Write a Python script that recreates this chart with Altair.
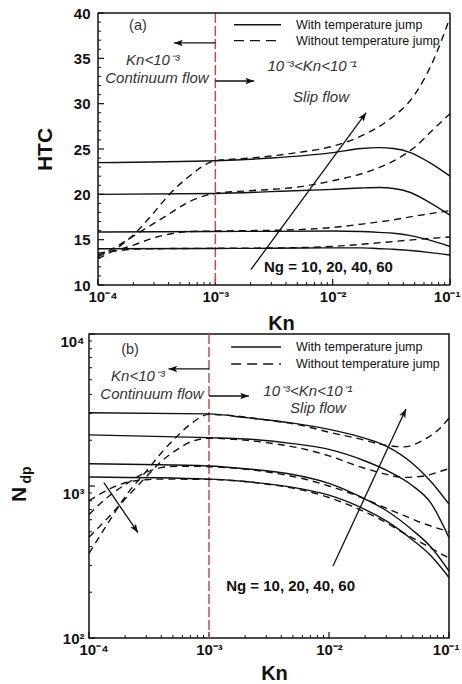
import altair as alt
import pandas as pd

FONT = "Liberation Sans"
INK = "#111111"
RED = "#c0504d"

# ---------------- Knudsen-number axis (shared) ----------------
KN_DOMAIN = [1e-4, 1e-1]
KN_DECADES = [1e-4, 1e-3, 1e-2, 1e-1]
KN_MINOR = [m * d for d in (1e-4, 1e-3, 1e-2) for m in range(2, 10)]
KN_REGIME = [1e-3]  # continuum / slip-flow boundary
KN_LABEL_EXPR = ("datum.value < 0.0005 ? '10⁻⁴' : datum.value < 0.005 ? '10⁻³' : "
                 "datum.value < 0.05 ? '10⁻²' : '10⁻¹'")

# ---------------- (a) heat transfer coefficient ----------------
KN_A_WITH = [1e-4, 1e-3, 3e-3, 1e-2, 1.75e-2, 2.5e-2, 3.3e-2, 4.6e-2, 6.5e-2, 1e-1]
HTC_WITH = {
    10: [14.0, 14.03, 14.05, 14.1, 14.1, 14.0, 13.95, 13.8, 13.6, 13.3],
    20: [15.85, 15.9, 15.92, 15.95, 15.9, 15.8, 15.7, 15.45, 15.0, 14.25],
    40: [20.0, 20.1, 20.3, 20.55, 20.7, 20.75, 20.65, 20.2, 19.2, 17.7],
    60: [23.5, 23.7, 24.0, 24.6, 25.05, 25.15, 25.05, 24.6, 23.6, 22.0],
}
KN_A_WITHOUT = [1e-4, 1.5e-4, 2e-4, 3e-4, 4e-4, 6e-4, 1e-3, 2e-3, 5e-3,
                1e-2, 2e-2, 3e-2, 5e-2, 7e-2, 1e-1]
HTC_WITHOUT = {
    10: [13.5, 13.8, 13.95, 14.0, 14.02, 14.03, 14.05, 14.07, 14.12, 14.25, 14.55, 14.75, 15.0, 15.15, 15.3],
    20: [13.3, 13.9, 14.4, 15.2, 15.6, 15.9, 15.95, 16.0, 16.1, 16.35, 16.8, 17.1, 17.6, 17.9, 18.2],
    40: [13.1, 14.4, 15.4, 16.8, 17.8, 19.2, 20.1, 20.4, 20.8, 21.5, 22.5, 23.4, 25.2, 27.0, 28.9],
    60: [12.9, 14.2, 15.5, 18.0, 19.9, 22.0, 23.7, 24.0, 24.6, 25.3, 26.8, 28.2, 31.0, 34.4, 39.5],
}
HTC_DOMAIN = [10, 40]
HTC_MAJOR = [10, 15, 20, 25, 30, 35, 40]
HTC_MINOR = [v for v in range(11, 40) if v % 5]

# ---------------- (b) N_dp ----------------
KN_B_WITH = [1e-4, 1e-3, 2e-3, 5e-3, 1e-2, 2e-2, 3e-2, 5e-2, 7e-2, 1e-1]
NDP_WITH = {
    10: [1145, 1110, 1070, 980, 870, 700, 590, 440, 350, 250],
    20: [1400, 1355, 1300, 1190, 1040, 820, 690, 510, 400, 276],
    40: [2170, 2080, 2040, 1900, 1740, 1460, 1270, 1000, 780, 457],
    60: [3030, 2980, 2820, 2590, 2360, 2060, 1830, 1400, 1080, 760],
}
KN_B_WITHOUT = [1e-4, 1.5e-4, 2e-4, 3e-4, 4e-4, 5.5e-4, 7e-4, 1e-3, 3e-3, 6e-3,
                1e-2, 1.8e-2, 2.7e-2, 4.2e-2, 6e-2, 8.5e-2, 1e-1]
NDP_WITHOUT = {
    10: [800, 960, 1050, 1100, 1110, 1110, 1108, 1105, 1030, 940, 840, 700, 600, 490, 420, 360, 335],
    20: [650, 870, 1020, 1230, 1320, 1350, 1350, 1340, 1240, 1120, 1000, 850, 740, 640, 570, 520, 500],
    40: [460, 640, 820, 1150, 1450, 1750, 1950, 2060, 1930, 1760, 1580, 1340, 1220, 1140, 1160, 1250, 1300],
    60: [360, 600, 850, 1250, 1650, 2150, 2550, 2960, 2720, 2500, 2260, 2040, 1880, 1810, 1990, 2420, 2800],
}
NDP_DOMAIN = [1e2, 1e4]
NDP_MAJOR = [1e2, 1e3, 1e4]
NDP_MINOR = [m * d for d in (1e2, 1e3) for m in range(2, 10)]
NDP_LABEL_EXPR = "datum.value < 500 ? '10²' : datum.value < 5000 ? '10³' : '10⁴'"

# ---------------- annotations (anchored in data coordinates) ----------------
REGIME_TEXT = ["Kn<10⁻³", "Continuum flow", "10⁻³<Kn<10⁻¹", "Slip flow"]
REGIME_KN_A = [2.94e-4, 3.18e-4, 6.67e-3, 7.96e-3]
REGIME_HTC = [34.85, 32.87, 34.1, 30.77]
REGIME_KN_B = [2.56e-4, 3.35e-4, 6.68e-3, 8.1e-3]
REGIME_NDP = [5292, 4027, 4217, 3259]

LEGEND_TEXT = ["With temperature jump", "Without temperature jump"]
LEGEND_DASHED = [False, True]
LEGEND_KN_A = [1.44e-3, 3.63e-3, 4.87e-3]      # line start, line end, text start
LEGEND_HTC = [38.7, 36.95]
LEGEND_KN_B = [1.53e-3, 3.98e-3, 5.31e-3]
LEGEND_NDP = [8210, 6353]

NG_TEXT = "Ng = 10, 20, 40, 60"
NG_POS_A = (2.6e-3, 12.03)
NG_POS_B = (1.39e-3, 220)
TAG_POS_A = (2.19e-4, 38.6)
TAG_POS_B = (2.2e-4, 7850)

# arrows: start Kn, start value, end Kn, end value, head rotation (deg)
ARROWS_A = [
    (1e-3, 36.7, 4.45e-4, 36.7, 270),
    (1e-3, 32.5, 2.14e-3, 32.5, 90),
    (2.01e-3, 11.7, 1.93e-2, 29.0, 36),
]
ARROWS_B = [
    (1e-3, 5888, 4.6e-4, 5888, 270),
    (1e-3, 3908, 2.15e-3, 3908, 90),
    (1.08e-2, 298, 4.38e-2, 3213, 25),
    (1.33e-4, 1052, 2.56e-4, 493, 146),
]

ARROW_HEAD = "M0,0 L-0.38,1 L0,0.78 L0.38,1 Z"


def long_table(kn, table):
    return pd.DataFrame([{"Kn": k, "value": v, "Ng": ng}
                         for ng, vals in table.items() for k, v in zip(kn, vals)])


def x_axis(title_x, title_pad):
    return alt.Axis(values=KN_DECADES, labelExpr=KN_LABEL_EXPR, ticks=False, domain=False,
                    grid=False, labelFont=FONT, labelFontSize=15, labelFontWeight="bold",
                    labelColor=INK, labelPadding=4, labelFlush=True, labelFlushOffset=10,
                    labelOverlap=False, title="Kn", titleFont=FONT, titleFontSize=20,
                    titleFontWeight="bold", titleColor=INK, titlePadding=title_pad,
                    titleX=title_x)


def make_panel(width, height, x_range, inset, y_scale, y_axis, x_axis_def, with_df, without_df,
               y_major, y_minor, regime_kn, regime_val, legend_kn, legend_val, ng_pos, tag,
               tag_pos, arrows, extra=()):
    kx = lambda f: alt.X(f"{f}:Q", axis=x_axis_def,
                         scale=alt.Scale(type="log", domain=KN_DOMAIN, range=x_range))
    vy = lambda f: alt.Y(f"{f}:Q", scale=y_scale, axis=y_axis)

    layers = []
    # inward tick marks
    layers.append(alt.Chart(pd.DataFrame({"Kn": KN_DECADES})).mark_rule(color=INK, strokeWidth=1.2)
                  .encode(x=kx("Kn"), y=alt.value(height), y2=alt.value(height - 6)))
    layers.append(alt.Chart(pd.DataFrame({"Kn": KN_MINOR})).mark_rule(color=INK, strokeWidth=1)
                  .encode(x=kx("Kn"), y=alt.value(height), y2=alt.value(height - 3)))
    layers.append(alt.Chart(pd.DataFrame({"value": y_major})).mark_rule(color=INK, strokeWidth=1.2)
                  .encode(y=vy("value"), x=alt.value(inset), x2=alt.value(inset + 6)))
    layers.append(alt.Chart(pd.DataFrame({"value": y_minor})).mark_rule(color=INK, strokeWidth=1)
                  .encode(y=vy("value"), x=alt.value(inset), x2=alt.value(inset + 3)))
    # continuum / slip boundary
    layers.append(alt.Chart(pd.DataFrame({"Kn": KN_REGIME}))
                  .mark_rule(color=RED, strokeWidth=1.5, strokeDash=[10, 3]).encode(x=kx("Kn")))
    # curves
    layers.append(alt.Chart(with_df).mark_line(color=INK, strokeWidth=1.4, interpolate="monotone")
                  .encode(x=kx("Kn"), y=vy("value"), detail="Ng:N"))
    layers.append(alt.Chart(without_df)
                  .mark_line(color=INK, strokeWidth=1.4, strokeDash=[7, 5], interpolate="monotone")
                  .encode(x=kx("Kn"), y=vy("value"), detail="Ng:N"))
    # legend
    for val, dashed, label in zip(legend_val, LEGEND_DASHED, LEGEND_TEXT):
        seg = pd.DataFrame({"Kn": [legend_kn[0]], "Kn2": [legend_kn[1]], "value": [val]})
        layers.append(alt.Chart(seg).mark_rule(color=INK, strokeWidth=1.4,
                                               strokeDash=[10, 6] if dashed else [1, 0])
                      .encode(x=kx("Kn"), x2="Kn2:Q", y=vy("value")))
        txt = pd.DataFrame({"Kn": [legend_kn[2]], "value": [val], "text": [label]})
        layers.append(alt.Chart(txt).mark_text(font=FONT, fontSize=12.5, color=INK, align="left",
                                               baseline="middle")
                      .encode(x=kx("Kn"), y=vy("value"), text="text:N"))
    # regime notes
    notes = pd.DataFrame({"Kn": regime_kn, "value": regime_val, "text": REGIME_TEXT})
    layers.append(alt.Chart(notes).mark_text(font=FONT, fontSize=15, fontStyle="italic",
                                             color="#333333", baseline="middle")
                  .encode(x=kx("Kn"), y=vy("value"), text="text:N"))
    tag_df = pd.DataFrame({"Kn": [tag_pos[0]], "value": [tag_pos[1]], "text": [tag]})
    layers.append(alt.Chart(tag_df).mark_text(font=FONT, fontSize=14.5, color="#333333",
                                              baseline="middle")
                  .encode(x=kx("Kn"), y=vy("value"), text="text:N"))
    ng_df = pd.DataFrame({"Kn": [ng_pos[0]], "value": [ng_pos[1]], "text": [NG_TEXT]})
    layers.append(alt.Chart(ng_df).mark_text(font=FONT, fontSize=15, fontWeight="bold", color=INK,
                                             align="left", baseline="middle")
                  .encode(x=kx("Kn"), y=vy("value"), text="text:N"))
    # arrows
    arr = pd.DataFrame(arrows, columns=["Kn", "value", "Kn2", "value2", "angle"])
    layers.append(alt.Chart(arr).mark_rule(color=INK, strokeWidth=1.3)
                  .encode(x=kx("Kn"), x2="Kn2:Q", y=vy("value"), y2="value2:Q"))
    layers.append(alt.Chart(arr).mark_point(shape=ARROW_HEAD, filled=True, color=INK, size=300,
                                            opacity=1)
                  .encode(x=kx("Kn2"), y=vy("value2"), angle=alt.Angle("angle:Q", scale=None)))
    for extra_layer in extra:
        layers.append(extra_layer(kx, vy))
    return alt.layer(*layers).properties(width=width, height=height)


def frame_a(kx, vy):
    # plot frame drawn on the data extremes of panel (a)
    sides = pd.DataFrame({"Kn": [KN_DOMAIN[0], KN_DOMAIN[0]], "Kn2": [KN_DOMAIN[1]] * 2,
                          "value": HTC_DOMAIN})
    edges = pd.DataFrame({"Kn": KN_DOMAIN})
    horiz = alt.Chart(sides).mark_rule(color=INK, strokeWidth=1.5).encode(
        x=kx("Kn"), x2="Kn2:Q", y=vy("value"))
    vert = alt.Chart(edges).mark_rule(color=INK, strokeWidth=1.5).encode(x=kx("Kn"))
    return alt.layer(horiz, vert)


def dp_subscript(kx, vy):
    # subscript of the N_dp axis title
    return alt.Chart(pd.DataFrame({"t": ["dp"]})).mark_text(
        font=FONT, fontSize=14, fontWeight="bold", color=INK, angle=270, align="center",
        baseline="bottom").encode(x=alt.value(-55), y=alt.value(H_B / 2 - 11), text="t:N")


INSET_A = 9          # panel (a) frame sits this far right of panel (b)'s
W_A, H_A = 352, 272
W_B, H_B = 360, 304

y_axis_a = alt.Axis(values=HTC_MAJOR, ticks=False, domain=False, grid=False, offset=-INSET_A,
                    labelFont=FONT, labelFontSize=15, labelFontWeight="bold", labelColor=INK,
                    labelPadding=8, title="HTC", titleFont=FONT, titleFontSize=21,
                    titleFontWeight="bold", titleColor=INK, titleX=-43, titleY=H_A / 2,
                    minExtent=92, maxExtent=92)

y_axis_b = alt.Axis(values=NDP_MAJOR, labelExpr=NDP_LABEL_EXPR, ticks=False, domain=False,
                    grid=False, labelFont=FONT, labelFontSize=15, labelFontWeight="bold",
                    labelColor=INK, labelPadding=5, labelFlush=False, labelOverlap=False,
                    labelOffset=alt.condition("datum.value < 500", alt.value(0), alt.value(7)),
                    title="N", titleFont=FONT, titleFontSize=21, titleFontWeight="bold",
                    titleColor=INK, titleX=-60, titleY=H_B / 2 + 8, minExtent=83, maxExtent=83)

panel_a = make_panel(W_A + INSET_A, H_A, [INSET_A, W_A + INSET_A], INSET_A,
                     alt.Scale(domain=HTC_DOMAIN, nice=False), y_axis_a, x_axis(192, 9),
                     long_table(KN_A_WITH, HTC_WITH), long_table(KN_A_WITHOUT, HTC_WITHOUT),
                     HTC_MAJOR, HTC_MINOR, REGIME_KN_A, REGIME_HTC, LEGEND_KN_A, LEGEND_HTC,
                     NG_POS_A, "(a)", TAG_POS_A, ARROWS_A, extra=(frame_a,)
                     ).properties(view=alt.ViewBackground(stroke="transparent"))

panel_b = make_panel(W_B, H_B, [0, W_B], 0,
                     alt.Scale(type="log", domain=NDP_DOMAIN, nice=False), y_axis_b, x_axis(185, 6),
                     long_table(KN_B_WITH, NDP_WITH), long_table(KN_B_WITHOUT, NDP_WITHOUT),
                     NDP_MAJOR, NDP_MINOR, REGIME_KN_B, REGIME_NDP, LEGEND_KN_B, LEGEND_NDP,
                     NG_POS_B, "(b)", TAG_POS_B, ARROWS_B, extra=(dp_subscript,)
                     ).properties(view=alt.ViewBackground(stroke=INK, strokeWidth=1.5))

chart = (
    alt.vconcat(panel_a, panel_b, spacing=-4)
    .properties(padding={"left": 5, "top": 5, "right": 0, "bottom": 0}, background="white")
)

chart.save("out.html", embed_options={"renderer": "svg", "actions": False})
